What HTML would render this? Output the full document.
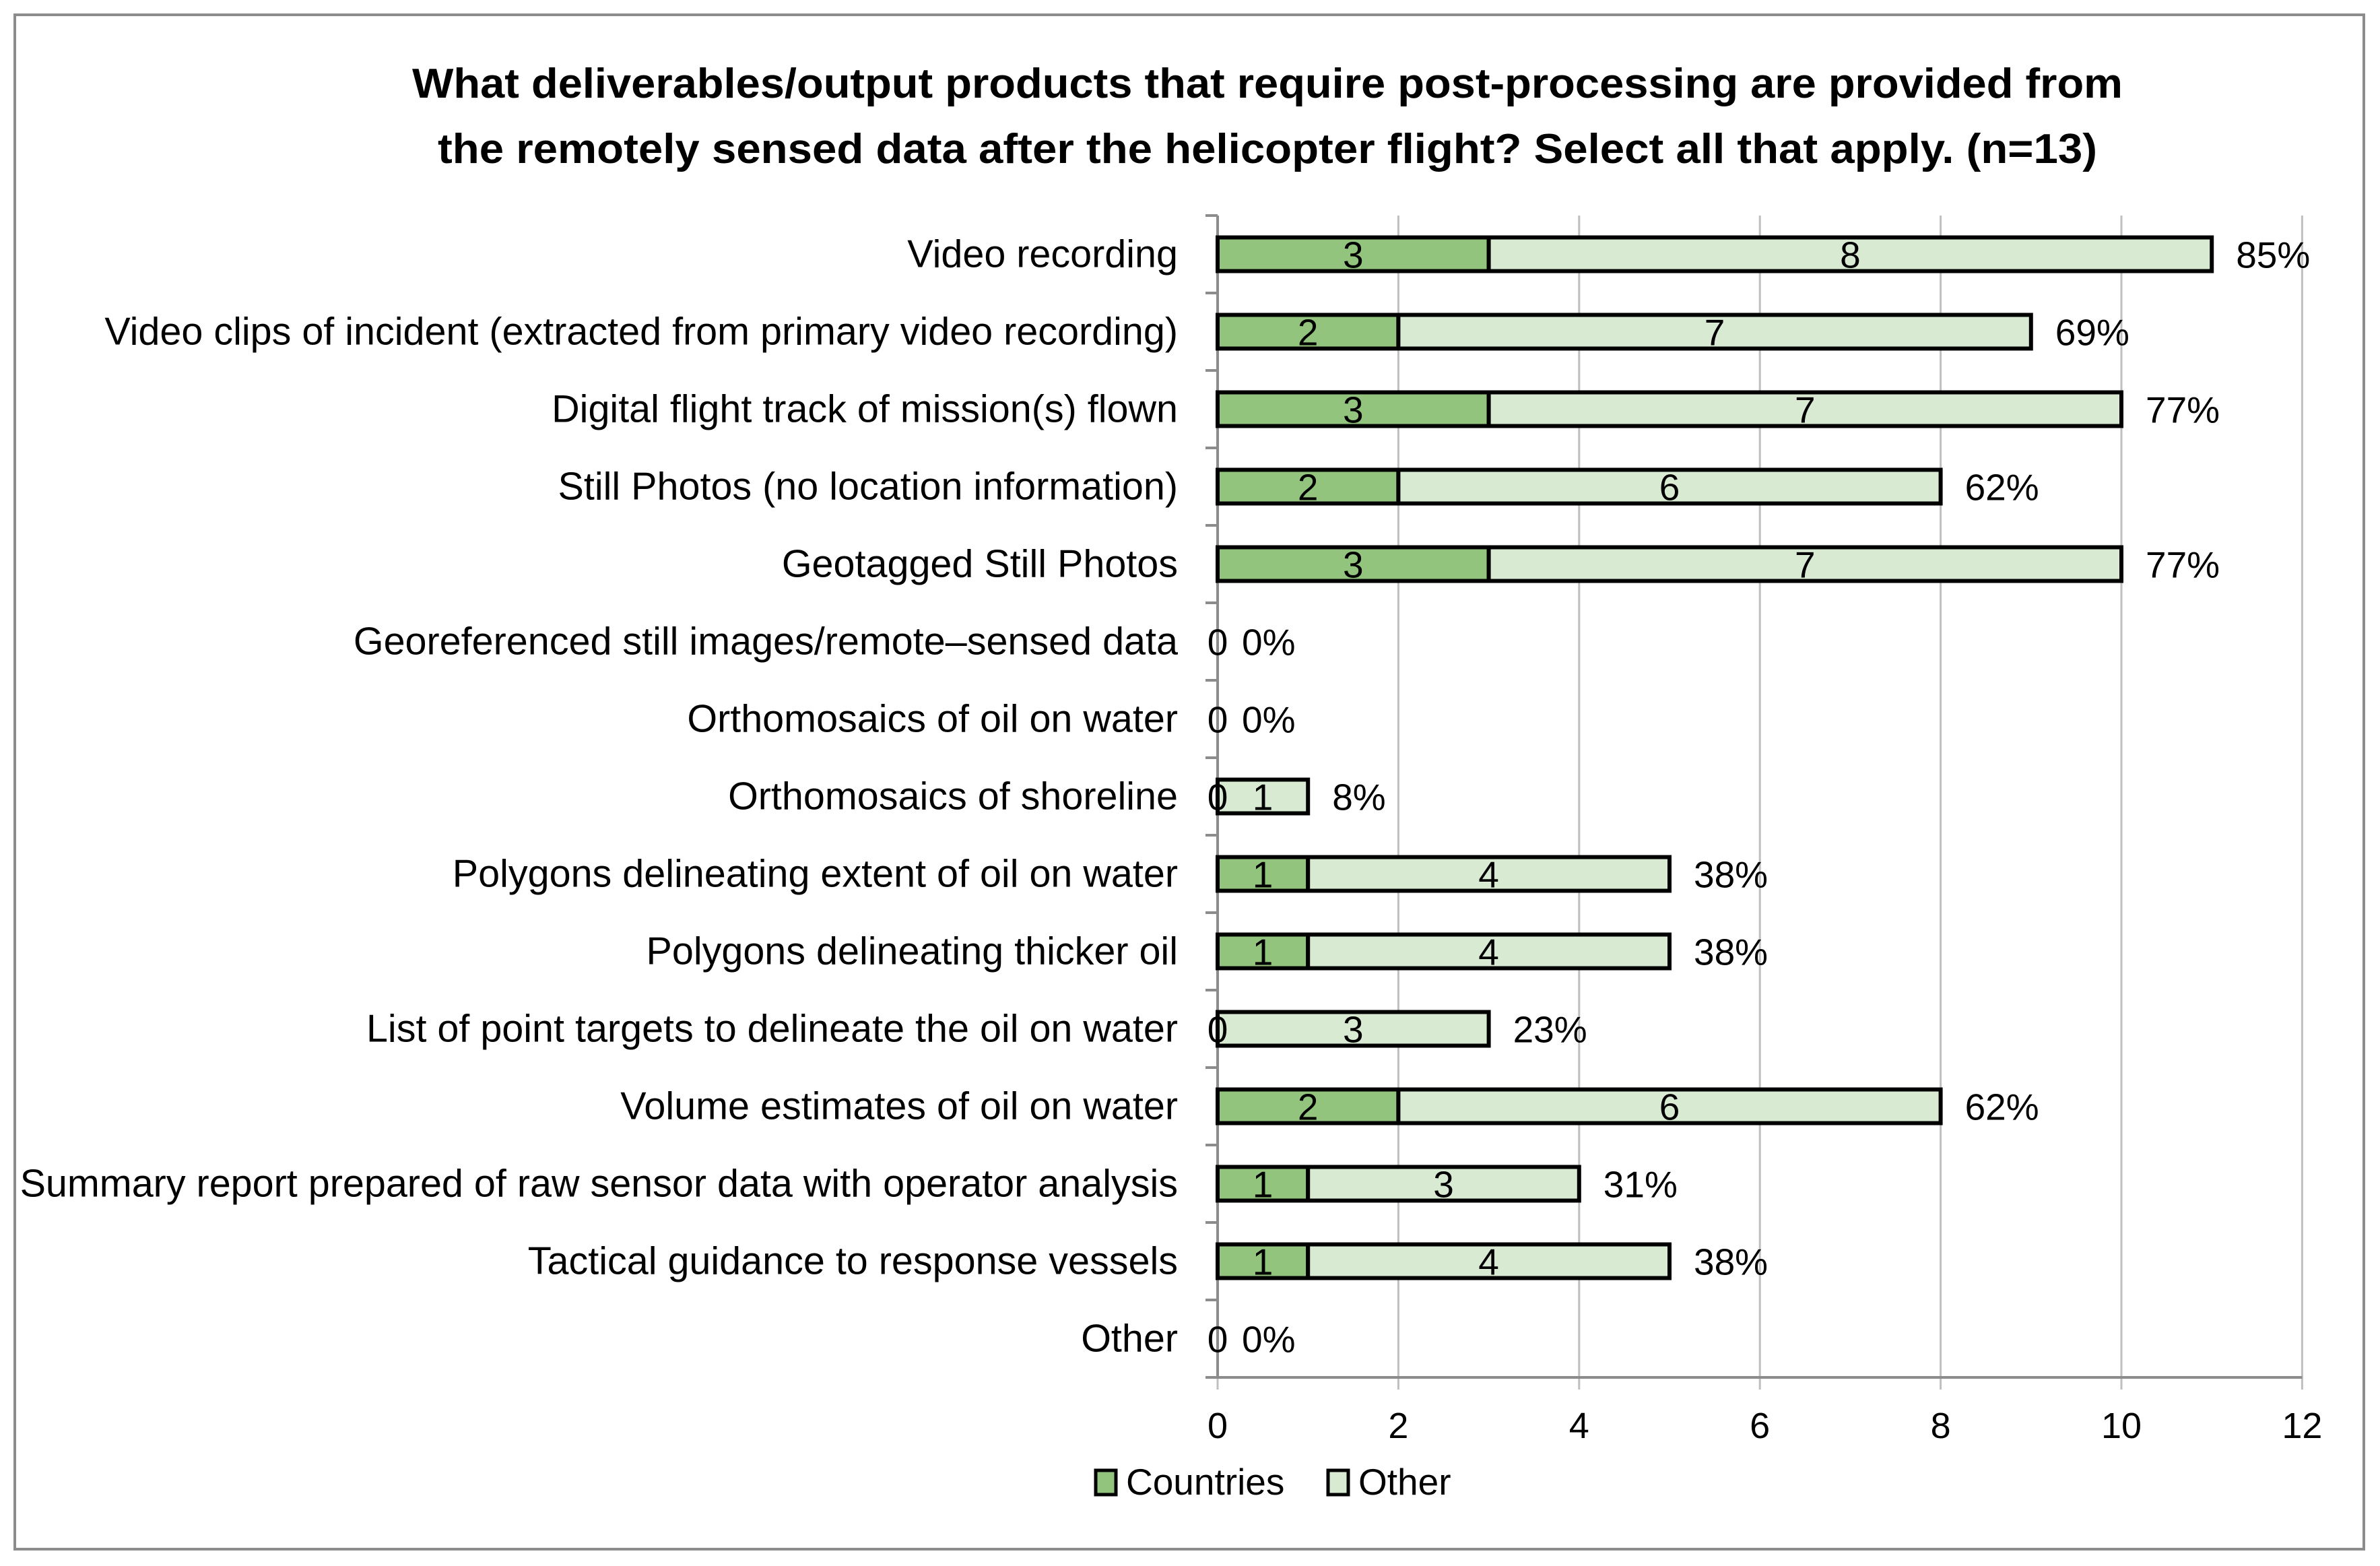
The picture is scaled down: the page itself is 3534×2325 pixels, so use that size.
<!DOCTYPE html>
<html><head><meta charset="utf-8"><style>
html,body{margin:0;padding:0;background:#fff;}
svg text{font-family:"Liberation Sans",sans-serif;fill:#000;}
</style></head><body>
<svg id="chart" width="3534" height="2320" viewBox="0 0 3534 2320" xmlns="http://www.w3.org/2000/svg">
<rect x="22" y="22" width="3488" height="2278" fill="#fff" stroke="#8c8c8c" stroke-width="4"/>
<text x="1882" y="145" text-anchor="middle" font-size="62" font-weight="bold" textLength="2540" lengthAdjust="spacingAndGlyphs">What deliverables/output products that require post-processing are provided from</text>
<text x="1882" y="242" text-anchor="middle" font-size="62" font-weight="bold" textLength="2464" lengthAdjust="spacingAndGlyphs">the remotely sensed data after the helicopter flight? Select all that apply. (n=13)</text>
<g id="grid"></g><g id="bars"></g><g id="labels"></g>
<g>
<rect x="1627" y="2183" width="30" height="36" fill="#93c47d" stroke="#000" stroke-width="5"/>
<text x="1672" y="2219" font-size="55">Countries</text>
<rect x="1972" y="2183" width="30" height="36" fill="#d9ead3" stroke="#000" stroke-width="5"/>
<text x="2017" y="2219" font-size="55">Other</text>
</g>
</svg>
<script>
const categories=["Video recording","Video clips of incident (extracted from primary video recording)","Digital flight track of mission(s) flown","Still Photos (no location information)","Geotagged Still Photos","Georeferenced still images/remote\u2013sensed data","Orthomosaics of oil on water","Orthomosaics of shoreline","Polygons delineating extent of oil on water","Polygons delineating thicker oil","List of point targets to delineate the oil on water","Volume estimates of oil on water","Summary report prepared of raw sensor data with operator analysis","Tactical guidance to response vessels","Other"];
const countries=[3,2,3,2,3,0,0,0,1,1,0,2,1,1,0];
const other=[8,7,7,6,7,0,0,1,4,4,3,6,3,4,0];
const percents=["85%","69%","77%","62%","77%","0%","0%","8%","38%","38%","23%","62%","31%","38%","0%"];
const xTicks=[0,2,4,6,8,10,12];
const NS="http://www.w3.org/2000/svg";
const X0=1808,UNIT=134.2,TOP=320,BAND=115,BH=50;
function xs(v){return X0+v*UNIT;}
function yc(i){return TOP+BAND*i+BAND/2;}
function mk(tag,attrs,parent,txt){const e=document.createElementNS(NS,tag);for(const k in attrs)e.setAttribute(k,attrs[k]);if(txt!==undefined)e.textContent=txt;parent.appendChild(e);return e;}
const grid=document.getElementById('grid'),bars=document.getElementById('bars'),labels=document.getElementById('labels');
const bottom=TOP+BAND*categories.length;
xTicks.forEach(t=>{
  const l=mk('line',{x1:xs(t),x2:xs(t),y1:TOP,y2:bottom+18,stroke:'#bfbfbf','stroke-width':3},grid);
  
  
  const tx=mk('text',{x:xs(t),y:bottom+90,'text-anchor':'middle','font-size':54},labels,String(t));
  
  
});
const ax=mk('line',{x1:X0,x2:X0,y1:TOP,y2:bottom,stroke:'#8c8c8c','stroke-width':4},grid);


const bx=mk('line',{x1:X0-18,x2:xs(12),y1:bottom,y2:bottom,stroke:'#8c8c8c','stroke-width':4},grid);


for(let i=0;i<categories.length;i++){
  const tk=mk('line',{x1:X0-18,x2:X0,y1:TOP+BAND*i,y2:TOP+BAND*i,stroke:'#8c8c8c','stroke-width':4},grid);
  
  
}
categories.forEach((c,i)=>{
  const y=yc(i);
  const cl=mk('text',{x:1749,y:y+19,'text-anchor':'end','font-size':57.5},labels,c);
  
  
  const a=countries[i],b=other[i];
  if(a>0){
    const r=mk('rect',{x:xs(0),y:y-BH/2,width:xs(a)-xs(0),height:BH,fill:'#93c47d',stroke:'#000','stroke-width':6},bars);
    
    
  }
  if(b>0){
    const r=mk('rect',{x:xs(a),y:y-BH/2,width:xs(a+b)-xs(a),height:BH,fill:'#d9ead3',stroke:'#000','stroke-width':6},bars);
    
    
  }
  const ca=mk('text',{x:a>0?(xs(0)+xs(a))/2:xs(0),y:y+20,'text-anchor':'middle','font-size':55},labels,String(a));
  
  
  if(b>0){
    const cb=mk('text',{x:(xs(a)+xs(a+b))/2,y:y+20,'text-anchor':'middle','font-size':55},labels,String(b));
    
    
  }
  const pe=mk('text',{x:(a+b>0?xs(a+b)+36:xs(0)+36),y:y+20,'font-size':55},labels,percents[i]);
  
  
});
</script>
</body></html>
